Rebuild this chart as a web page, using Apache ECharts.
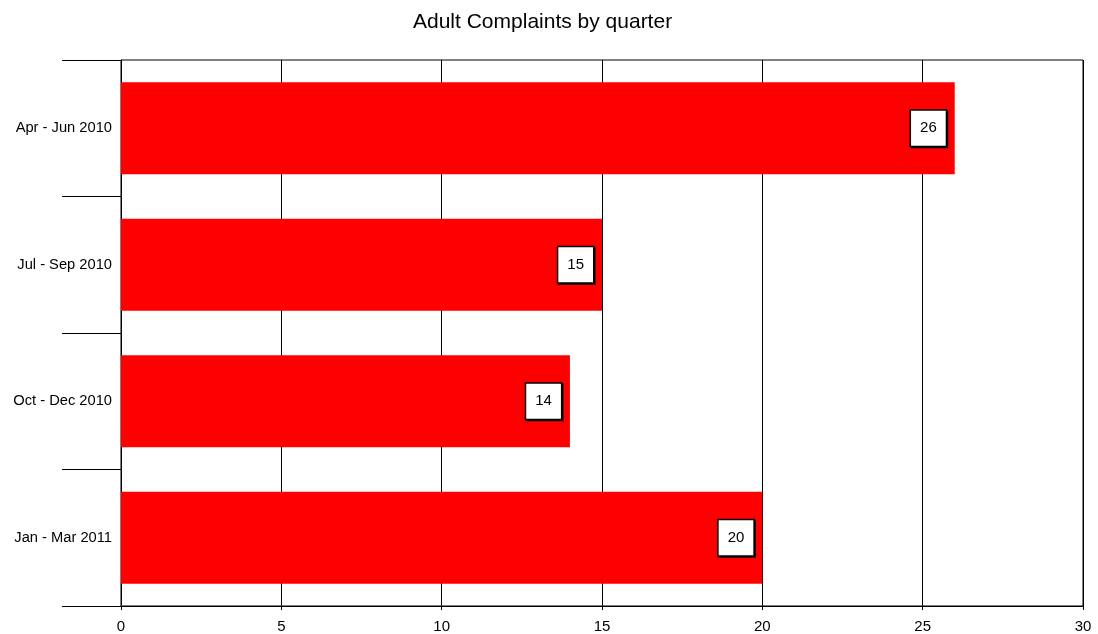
<!DOCTYPE html>
<html>
<head>
<meta charset="utf-8">
<script src="https://cdn.jsdelivr.net/npm/echarts@6/dist/echarts.min.js"></script>
<style>
  html, body { margin: 0; padding: 0; background: #fff; }
  #chart { width: 1098px; height: 634px; }
</style>
</head>
<body>
<div id="chart"></div>
<script>
// Quarters, listed top to bottom
const quarters = ['Apr - Jun 2010', 'Jul - Sep 2010', 'Oct - Dec 2010', 'Jan - Mar 2011'];
// Number of adult complaints received in each quarter
const complaints = [26, 15, 14, 20];
// Value axis range
const axisMin = 0;
const axisMax = 30;
const axisStep = 5;

const font = 'Liberation Sans, Arial, Helvetica, sans-serif';

const chart = echarts.init(document.getElementById('chart'), null, { renderer: 'canvas' });
chart.setOption({
  animation: false,
  backgroundColor: '#fff',
  title: {
    text: 'Adult Complaints by quarter',
    left: 408,
    top: 7,
    textStyle: { fontFamily: font, fontSize: 21, fontWeight: 'normal', color: '#000' }
  },
  grid: {
    left: 121, right: 15, top: 60, bottom: 28,
    show: true, borderColor: '#000', borderWidth: 1, backgroundColor: 'transparent'
  },
  xAxis: {
    type: 'value',
    min: axisMin, max: axisMax, interval: axisStep,
    axisLine: { show: true, lineStyle: { color: '#000', width: 1 } },
    axisTick: { show: true, length: 4, lineStyle: { color: '#000' } },
    axisLabel: { fontFamily: font, fontSize: 15, color: '#000', margin: 13 },
    splitLine: { show: true, lineStyle: { color: '#000', width: 1 } }
  },
  yAxis: {
    type: 'category',
    data: quarters,
    inverse: true,
    axisLine: { show: true, lineStyle: { color: '#000', width: 1 } },
    axisTick: { show: true, length: 59, alignWithLabel: false, lineStyle: { color: '#000' } },
    axisLabel: { fontFamily: font, fontSize: 14.7, color: '#000', margin: 9 },
    splitLine: { show: false }
  },
  series: [{
    type: 'bar',
    data: complaints,
    barWidth: 92,
    itemStyle: { color: '#ff0000' },
    label: {
      show: true,
      position: 'insideRight',
      distance: 9,
      fontFamily: font,
      fontSize: 15,
      color: '#000',
      backgroundColor: '#fff',
      borderColor: '#000',
      borderWidth: 1.5,
      lineHeight: 17,
      padding: [9, 9, 9, 9],
      shadowColor: '#000',
      shadowOffsetX: 1,
      shadowOffsetY: 1,
      shadowBlur: 0
    }
  }]
});
</script>
</body>
</html>
